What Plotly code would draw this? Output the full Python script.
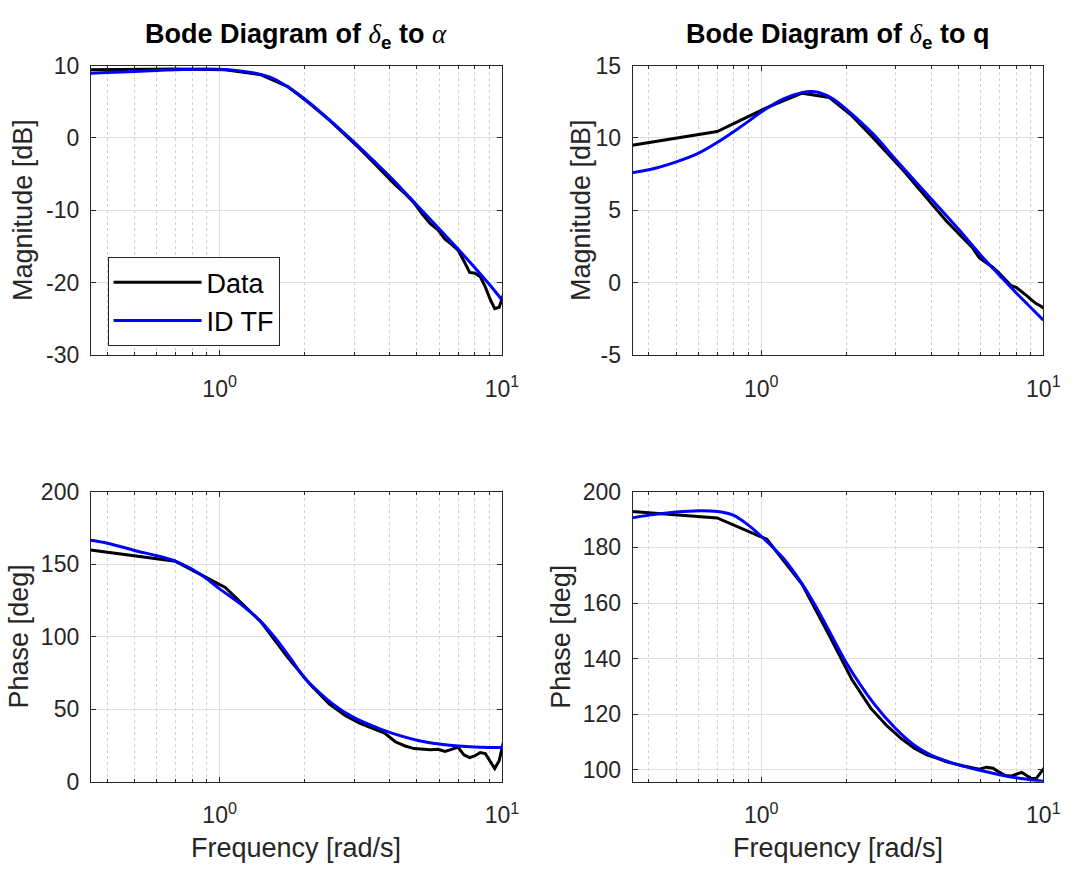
import math
import plotly.graph_objects as go

# ---------------- data ----------------
freq_data = [0.349, 0.698, 1.047, 1.396, 1.745, 2.094, 2.443, 2.793, 3.142, 3.491,
             3.840, 4.189, 4.538, 4.887, 5.236, 5.585, 5.934, 6.283, 6.632, 6.981,
             7.330, 7.679, 8.029, 8.378, 8.727, 9.076, 9.425, 9.774, 10.123]
freq_tf = [0.349, 0.4, 0.5, 0.6, 0.7, 0.8, 0.9, 1.0, 1.2, 1.4, 1.5, 1.6, 1.8, 2.0,
           2.5, 3.0, 3.5, 4.0, 5.0, 6.0, 7.0, 8.0, 9.0, 10.0]

mag_alpha_data = [9.45, 9.55, 9.45, 8.75, 7.1, 4.7, 2.5, 0.4, -1.5, -3.3,
                  -5.0, -6.5, -7.7, -9.0, -10.6, -11.9, -12.7, -14.0, -14.7, -15.5,
                  -17.0, -18.6, -18.7, -19.2, -20.6, -22.3, -23.6, -23.4, -21.6]
mag_alpha_tf = [8.95, 9.05, 9.2, 9.35, 9.45, 9.52, 9.55, 9.52, 9.25, 8.8, 8.45, 7.95, 6.7, 5.4,
                2.2, -0.6, -3.1, -5.3, -9.3, -12.6, -15.4, -17.9, -20.2, -22.4]

mag_q_data = [9.5, 10.45, 12.1, 13.1, 12.8, 11.55, 10.2, 9.0, 7.9, 6.85,
              5.9, 5.05, 4.25, 3.6, 3.0, 2.45, 1.7, 1.35, 1.05, 0.65,
              0.2, -0.2, -0.35, -0.6, -0.9, -1.2, -1.45, -1.62, -1.82]
mag_q_tf = [7.6, 7.8, 8.35, 8.95, 9.7, 10.45, 11.15, 11.8, 12.7, 13.15, 13.22, 13.15, 12.7, 12.0,
            10.25, 8.5, 7.05, 5.8, 3.7, 1.9, 0.5, -0.7, -1.7, -2.6]

phase_alpha_data = [159.8, 152.0, 134.0, 110.6, 85.6, 67.0, 53.6, 45.4, 40.2, 36.5,
                    33.5, 27.5, 24.6, 22.8, 22.3, 22.0, 22.3, 20.8, 22.3, 23.9,
                    18.5, 16.5, 17.9, 20.1, 19.4, 14.5, 9.0, 14.5, 27.5]
phase_alpha_tf = [166.5, 164.5, 159.5, 155.8, 152.0, 146.5, 140.0, 133.0, 121.8, 110.4, 104.0, 97.5, 84.0, 71.5,
                  54.0, 44.0, 38.3, 34.0, 28.6, 25.9, 24.6, 23.9, 23.6, 23.5]

phase_q_data = [192.9, 190.6, 182.9, 166.7, 148.2, 132.6, 122.2, 115.8, 111.2, 107.8,
                105.5, 104.3, 102.9, 102.0, 101.4, 100.8, 100.3, 101.0, 100.6, 99.2,
                98.0, 97.8, 98.5, 99.1, 98.0, 96.9, 96.9, 99.0, 101.0]
phase_q_tf = [190.6, 191.6, 192.7, 193.2, 192.9, 191.5, 188.0, 184.0, 176.0, 166.7, 161.8, 156.9, 147.2, 138.6,
              124.0, 114.8, 108.8, 105.3, 101.8, 99.8, 98.3, 97.2, 96.5, 95.9]

x_tickvals = [1, 10]
x_ticktext = ["10<sup>0</sup>", "10<sup>1</sup>"]
x_minor_vals = [0.4, 0.5, 0.6, 0.7, 0.8, 0.9, 2, 3, 4, 5, 6, 7, 8, 9]
x_limits = [0.35, 10]

y_ticks_mag_alpha = [-30, -20, -10, 0, 10]
y_ticks_mag_q = [-5, 0, 5, 10, 15]
y_ticks_phase_alpha = [0, 50, 100, 150, 200]
y_ticks_phase_q = [100, 120, 140, 160, 180, 200]
y_lim_mag_alpha = [-30, 10]
y_lim_mag_q = [-5, 15]
y_lim_phase_alpha = [0, 200]
y_lim_phase_q = [95.8, 200]

series_names = ["Data", "ID TF"]
SERIF = "style=\"font-family:'Liberation Serif'\""
titles = ["<b>Bode Diagram of </b><span " + SERIF + "><i>δ</i></span><b><sub>e</sub> to </b><span " + SERIF + "><i>α</i></span>",
          "<b>Bode Diagram of </b><span " + SERIF + "><i>δ</i></span><b><sub>e</sub> to q</b>"]

# ---------------- styling ----------------
FONT = "Liberation Sans, Arial, Helvetica, sans-serif"
AX = "#262626"
GRID = "#dfdfdf"
MINOR_GRID = "#cfcfcf"
W, H = 1082, 881
C_DATA = "#000000"
C_TF = "#0000ff"
LW = 3

fig = go.Figure()

panels = [
    ("x", "y", mag_alpha_data, mag_alpha_tf, True),
    ("x2", "y2", mag_q_data, mag_q_tf, False),
    ("x3", "y3", phase_alpha_data, phase_alpha_tf, False),
    ("x4", "y4", phase_q_data, phase_q_tf, False),
]
for xa, ya, d, tf, leg in panels:
    fig.add_trace(go.Scatter(x=freq_data, y=d, mode="lines", name=series_names[0],
                             line=dict(color=C_DATA, width=LW), xaxis=xa, yaxis=ya,
                             showlegend=leg))
    fig.add_trace(go.Scatter(x=freq_tf, y=tf, mode="lines", name=series_names[1],
                             line=dict(color=C_TF, width=LW, shape="spline", smoothing=0.8),
                             xaxis=xa, yaxis=ya, showlegend=leg))

xl = [92.3 / W, 510.0 / W]
xr = [642.7 / W, 1060.0 / W]
yt = [1 - 352.3 / H, 1 - 54.3 / H]
yb = [1 - 792.0 / H, 1 - 493.3 / H]


def xaxis_cfg(dom, anchor):
    return dict(
        domain=dom, anchor=anchor, type="log",
        range=[math.log10(x_limits[0]), math.log10(x_limits[1])],
        tickmode="array", tickvals=x_tickvals, ticktext=x_ticktext,
        ticks="inside", ticklen=5, tickcolor=AX, tickwidth=1,
        showline=True, linecolor=AX, linewidth=1, mirror="allticks",
        showgrid=True, gridcolor=GRID, gridwidth=1,
        minor=dict(tickmode="array", tickvals=x_minor_vals, ticks="inside", ticklen=3,
                   tickcolor=AX, showgrid=True, gridcolor=MINOR_GRID, griddash="dot", gridwidth=1),
        tickfont=dict(family=FONT, size=23, color=AX),
        ticklabelstandoff=13,
        zeroline=False, fixedrange=True,
    )


def yaxis_cfg(dom, anchor, rng, vals):
    return dict(
        domain=dom, anchor=anchor, range=rng,
        tickmode="array", tickvals=vals, ticktext=[str(v) for v in vals],
        ticks="inside", ticklen=5, tickcolor=AX, tickwidth=1,
        showline=True, linecolor=AX, linewidth=1, mirror="allticks",
        showgrid=True, gridcolor=GRID, gridwidth=1,
        tickfont=dict(family=FONT, size=23, color=AX),
        ticklabelstandoff=6,
        zeroline=False, fixedrange=True,
    )


fig.update_layout(
    width=W, height=H,
    margin=dict(l=0, r=0, t=0, b=0),
    paper_bgcolor="white", plot_bgcolor="white",
    font=dict(family=FONT, color=AX),
    xaxis=xaxis_cfg(xl, "y"),
    xaxis2=xaxis_cfg(xr, "y2"),
    xaxis3=xaxis_cfg(xl, "y3"),
    xaxis4=xaxis_cfg(xr, "y4"),
    yaxis=yaxis_cfg(yt, "x", y_lim_mag_alpha, y_ticks_mag_alpha),
    yaxis2=yaxis_cfg(yt, "x2", y_lim_mag_q, y_ticks_mag_q),
    yaxis3=yaxis_cfg(yb, "x3", y_lim_phase_alpha, y_ticks_phase_alpha),
    yaxis4=yaxis_cfg(yb, "x4", y_lim_phase_q, y_ticks_phase_q),
    showlegend=True,
    legend=dict(x=109.3 / W, y=1 - 251.7 / H, xanchor="left", yanchor="top",
                bgcolor="white", bordercolor=AX, borderwidth=1,
                font=dict(family=FONT, size=27, color="#000000"),
                itemwidth=88, tracegroupgap=0),
)

ann = []
# subplot titles
for cx, t in [((xl[0] + xl[1]) / 2, titles[0]), ((xr[0] + xr[1]) / 2, titles[1])]:
    ann.append(dict(text=t, x=cx, y=1 - 24 / H, xref="paper", yref="paper",
                    xanchor="center", yanchor="middle", showarrow=False,
                    font=dict(family=FONT, size=27, color="#000000")))
# axis titles
lab_font = dict(family=FONT, size=27, color=AX)
for x_px, y_px, txt in [(24, 203.3, "Magnitude [dB]"), (591, 203.3, "Magnitude [dB]"),
                        (19, 642.7, "Phase [deg]"), (570, 642.7, "Phase [deg]")]:
    ann.append(dict(text=txt, x=x_px / W, y=1 - y_px / H, xref="paper", yref="paper",
                    xanchor="center", yanchor="middle", textangle=-90, showarrow=False,
                    font=lab_font))
for cx in [(xl[0] + xl[1]) / 2, (xr[0] + xr[1]) / 2]:
    ann.append(dict(text="Frequency [rad/s]", x=cx, y=1 - 860 / H, xref="paper", yref="paper",
                    xanchor="center", yanchor="middle", showarrow=False, font=lab_font))
fig.update_layout(annotations=ann)

fig.write_html("out.html")
